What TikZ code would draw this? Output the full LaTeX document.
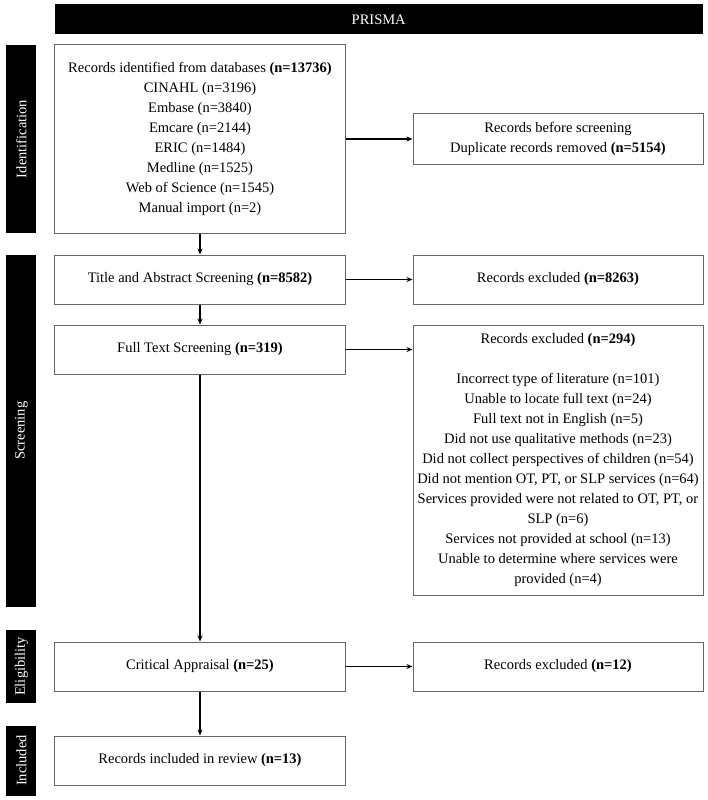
\documentclass[tikz,border=0pt]{standalone}
\usepackage{fontspec}
\setmainfont{Liberation Serif}
\usepackage{graphicx}
\usepackage{xcolor}
\usepackage{tikz}
\usetikzlibrary{arrows.meta,positioning}

\begin{document}
\begin{tikzpicture}[
  box/.style={rectangle, draw=black!60, line width=1pt, minimum width=290pt, minimum height=49pt, inner xsep=3pt, align=center, font=\fontsize{14.5}{20}\selectfont},
  side/.style={rectangle, fill=black, text=white, minimum width=30pt, inner sep=0pt, font=\fontsize{14.5}{20}\selectfont},
  head/.style={rectangle, fill=black, text=white, minimum width=648pt, minimum height=30pt, inner sep=0pt, font=\fontsize{14.5}{20}\selectfont},
  arr/.style={-{Stealth[length=6pt,width=5pt]}, line width=1.3pt}
]
\useasboundingbox (-200pt,-661pt) rectangle (508pt,139pt);
\node[box, minimum height=188pt] (ident) {Records identified from databases \textbf{(n=13736)}\\CINAHL (n=3196)\\Embase (n=3840)\\Emcare (n=2144)\\ERIC (n=1484)\\Medline (n=1525)\\Web of Science (n=1545)\\Manual import (n=2)};
\node[box, below=21pt of ident]      (titleabs)  {Title and Abstract Screening \textbf{(n=8582)}};
\node[box, below=20pt of titleabs]   (fulltext)  {Full Text Screening \textbf{(n=319)}};
\node[box, below=267pt of fulltext]  (appraisal) {Critical Appraisal \textbf{(n=25)}};
\node[box, below=44pt of appraisal]  (included)  {Records included in review \textbf{(n=13)}};

\node[box, right=67pt of ident, minimum height=51pt] (dups) {Records before screening\\Duplicate records removed \textbf{(n=5154)}};
\node[box, right=67pt of titleabs] (excl) {Records excluded \textbf{(n=8263)}};
\node[box, minimum height=270pt, below right=0pt and 67pt of fulltext.north east] (exclfull) {Records excluded \textbf{(n=294)}\\[20pt]Incorrect type of literature (n=101)\\Unable to locate full text (n=24)\\Full text not in English (n=5)\\Did not use qualitative methods (n=23)\\Did not collect perspectives of children (n=54)\\Did not mention OT, PT, or SLP services (n=64)\\Services provided were not related to OT, PT, or\\SLP (n=6)\\Services not provided at school (n=13)\\Unable to determine where services were\\provided (n=4)};
\node[box, right=67pt of appraisal] (exclapp) {Records excluded \textbf{(n=12)}};

\node[head, above right=10pt and 0pt of ident.north west] (prisma) {PRISMA};
\node[side, minimum height=188pt, left=18pt of ident] (idbar) {\rotatebox{90}{Identification}};
\node[side, minimum height=352pt, below left=0pt and 18pt of titleabs.north west] (scrbar) {\rotatebox{90}{Screening}};
\node[side, minimum height=73pt, left=18pt of appraisal] (eligbar) {\rotatebox{90}{Eligibility}};
\node[side, minimum height=70pt, left=18pt of included] (inclbar) {\rotatebox{90}{Included}};

\draw[arr] (ident)     -- (titleabs);
\draw[arr] (titleabs)  -- (fulltext);
\draw[arr] (fulltext)  -- (appraisal);
\draw[arr] (appraisal) -- (included);
\draw[arr] (ident)     -- (dups);
\draw[arr] (titleabs)  -- (excl);
\draw[arr] (fulltext)  -- (fulltext -| exclfull.west);
\draw[arr] (appraisal) -- (exclapp);
\end{tikzpicture}
\end{document}
